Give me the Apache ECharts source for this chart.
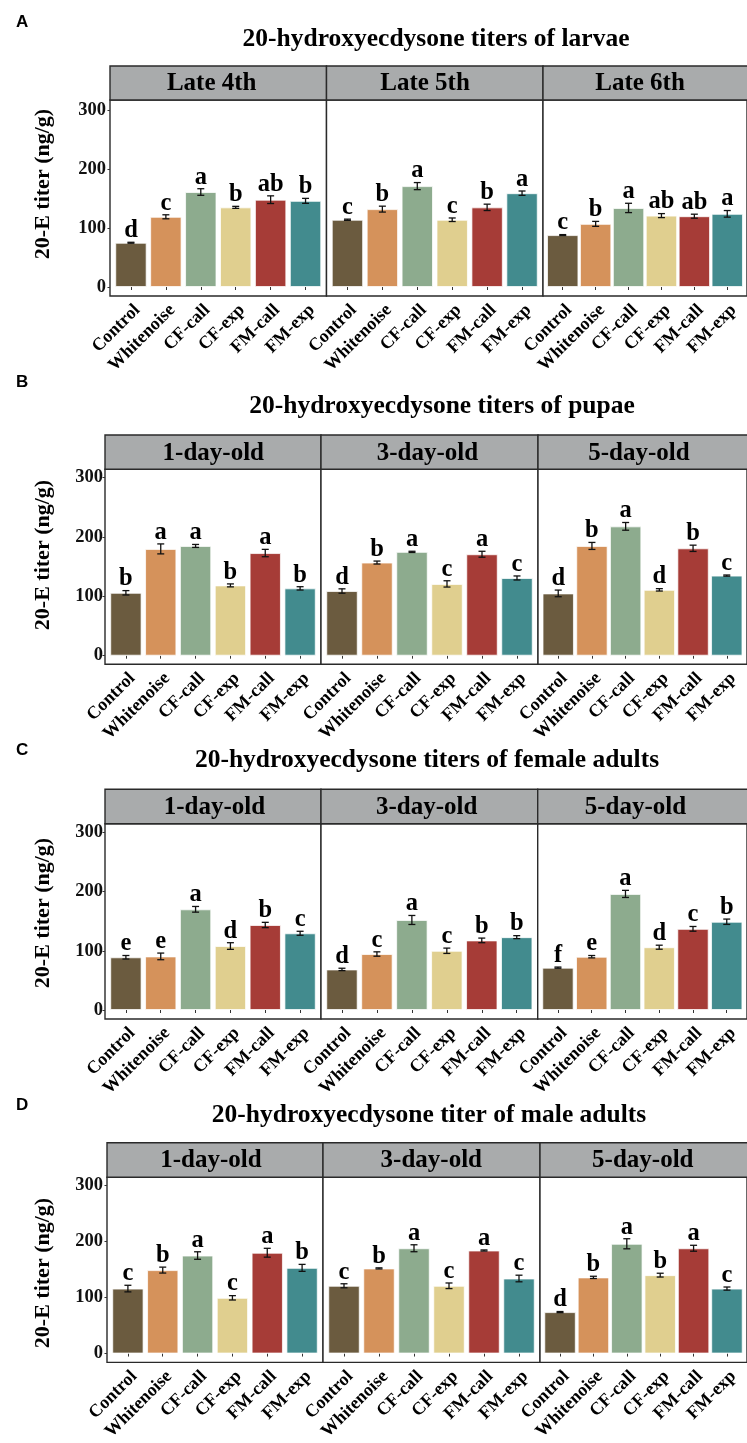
<!DOCTYPE html>
<html>
<head>
<meta charset="utf-8">
<script src="https://cdn.jsdelivr.net/npm/echarts@6/dist/echarts.min.js"></script>
<style>
html,body{margin:0;padding:0;background:#fff;}
#chart{width:747px;height:1443px;}
</style>
</head>
<body>
<div id="chart"></div>
<script>
// ---------------- DATA ----------------
const categories = ['Control', 'Whitenoise', 'CF-call', 'CF-exp', 'FM-call', 'FM-exp'];
const yTicks = [0, 100, 200, 300];

const panelTitles = [
  '20-hydroxyecdysone titers of larvae',
  '20-hydroxyecdysone titers of pupae',
  '20-hydroxyecdysone titers of female adults',
  '20-hydroxyecdysone titer of male adults'
];
const panelLetters = ['A', 'B', 'C', 'D'];
const larvaeFacets = ['Late 4th', 'Late 5th', 'Late 6th'];
const ageFacets = ['1-day-old', '3-day-old', '5-day-old'];

// A: larvae
const larvaeLate4Mean = [75, 119, 161, 135, 148, 146];
const larvaeLate4Se   = [0.8, 3.4, 5.6, 1.7, 6.5, 4.2];
const larvaeLate4Sig  = ['d', 'c', 'a', 'b', 'ab', 'b'];
const larvaeLate5Mean = [114, 132, 171, 114, 135, 159];
const larvaeLate5Se   = [1, 5, 6, 3, 5.4, 3.7];
const larvaeLate5Sig  = ['c', 'b', 'a', 'c', 'b', 'a'];
const larvaeLate6Mean = [88, 107, 134, 121, 120, 124];
const larvaeLate6Se   = [0.8, 4.2, 7.9, 3.4, 3.4, 5.6];
const larvaeLate6Sig  = ['c', 'b', 'a', 'ab', 'ab', 'a'];

// B: pupae
const pupae1Mean = [106, 180, 185, 118.5, 173, 113.5];
const pupae1Se   = [3.7, 8.4, 2.5, 2.5, 6.2, 2.8];
const pupae1Sig  = ['b', 'a', 'a', 'b', 'a', 'b'];
const pupae3Mean = [109, 157, 175, 121, 171, 131];
const pupae3Se   = [3.7, 2.5, 1, 5.3, 5, 3.4];
const pupae3Sig  = ['d', 'b', 'a', 'c', 'a', 'c'];
const pupae5Mean = [105, 185, 218, 111, 181, 135];
const pupae5Se   = [5.6, 5.9, 6.5, 2, 5.3, 1];
const pupae5Sig  = ['d', 'b', 'a', 'd', 'b', 'c'];

// C: female adults
const female1Mean = [89, 90.5, 170, 108, 143.5, 129.5];
const female1Se   = [3, 5.6, 4.8, 5.6, 4.5, 3.4];
const female1Sig  = ['e', 'e', 'a', 'd', 'b', 'c'];
const female3Mean = [68.5, 94.5, 152, 100, 117.5, 123];
const female3Se   = [2, 3.7, 7.6, 4.5, 3.9, 2.5];
const female3Sig  = ['d', 'c', 'a', 'c', 'b', 'b'];
const female5Mean = [71.5, 90, 196, 106, 137, 149];
const female5Se   = [1, 2, 6, 3.4, 4, 4.5];
const female5Sig  = ['f', 'e', 'a', 'd', 'c', 'b'];

// D: male adults
const male1Mean = [116, 149, 175, 99.5, 180, 153];
const male1Se   = [5.9, 5.3, 6.7, 3.9, 7.9, 6.2];
const male1Sig  = ['c', 'b', 'a', 'c', 'a', 'b'];
const male3Mean = [121, 152, 188, 121, 184, 134];
const male3Se   = [3.6, 1, 6.2, 5, 1, 5.9];
const male3Sig  = ['c', 'b', 'a', 'c', 'a', 'c'];
const male5Mean = [74, 136, 196, 140, 188, 116];
const male5Se   = [1, 2, 9, 3.4, 5.3, 2.8];
const male5Sig  = ['d', 'b', 'a', 'b', 'a', 'c'];

// ---------------- STYLE / LAYOUT ----------------
const barColors = ['#6b5b3f', '#d5925b', '#8dab8e', '#e0cf8f', '#a63c37', '#428b8e'];
const SERIF = '"Liberation Serif", "Times New Roman", serif';
const SANS = '"Liberation Sans", Arial, sans-serif';

const panels = [
  { facets: larvaeFacets,
    means: [larvaeLate4Mean, larvaeLate5Mean, larvaeLate6Mean],
    ses: [larvaeLate4Se, larvaeLate5Se, larvaeLate6Se],
    sigs: [larvaeLate4Sig, larvaeLate5Sig, larvaeLate6Sig],
    L: { letterY: 22, titleX: 436, titleY: 39.5, stripTop: 66, plotTop: 100, plotBottom: 296, y0: 287, y300: 110,
         fx: [110, 326.5, 543, 759.5], stx: [211.7, 425, 640], ytY: 184, lm: 4 } },
  { facets: ageFacets,
    means: [pupae1Mean, pupae3Mean, pupae5Mean],
    ses: [pupae1Se, pupae3Se, pupae5Se],
    sigs: [pupae1Sig, pupae3Sig, pupae5Sig],
    L: { letterY: 382, titleX: 442, titleY: 406, stripTop: 435, plotTop: 469.3, plotBottom: 664.3, y0: 655.7, y300: 477.7,
         fx: [105, 321, 538, 754.5], stx: [213.3, 427.5, 639], ytY: 555, lm: 2 } },
  { facets: ageFacets,
    means: [female1Mean, female3Mean, female5Mean],
    ses: [female1Se, female3Se, female5Se],
    sigs: [female1Sig, female3Sig, female5Sig],
    L: { letterY: 750, titleX: 427, titleY: 760, stripTop: 789.3, plotTop: 823.7, plotBottom: 1019, y0: 1010, y300: 832.3,
         fx: [105, 321, 537.7, 754], stx: [214.5, 426.7, 635.5], ytY: 913, lm: 2 } },
  { facets: ageFacets,
    means: [male1Mean, male3Mean, male5Mean],
    ses: [male1Se, male3Se, male5Se],
    sigs: [male1Sig, male3Sig, male5Sig],
    L: { letterY: 1105, titleX: 429, titleY: 1115, stripTop: 1142.7, plotTop: 1177.3, plotBottom: 1373.3, y0: 1364, y300: 1186,
         fx: [107, 323, 540, 757], stx: [211, 431.3, 642.8], ytY: 1273, lm: 4 } }
];

// ---------------- BUILD ----------------
const grids = [], xAxes = [], yAxes = [], series = [], graphics = [];

function errRenderer(sigArr) {
  return function (params, api) {
    const x = api.value(0), m = api.value(1), se = api.value(2);
    const top = api.coord([x, m + se]);
    const bot = api.coord([x, m - se]);
    const hw = 3.5;
    const st = { stroke: '#111', lineWidth: 1.3 };
    return {
      type: 'group',
      children: [
        { type: 'line', shape: { x1: top[0], y1: top[1], x2: bot[0], y2: bot[1] }, style: st },
        { type: 'line', shape: { x1: top[0] - hw, y1: top[1], x2: top[0] + hw, y2: top[1] }, style: st },
        { type: 'line', shape: { x1: bot[0] - hw, y1: bot[1], x2: bot[0] + hw, y2: bot[1] }, style: st },
        { type: 'text', x: top[0], y: top[1] + 1,
          style: { text: sigArr[params.dataIndex], font: 'bold 24.5px ' + SERIF, fill: '#000',
                   align: 'center', verticalAlign: 'bottom', textAlign: 'center', textVerticalAlign: 'bottom' } }
      ]
    };
  };
}

panels.forEach((p, pi) => {
  const L = p.L;
  const ppu = (L.y0 - L.y300) / 300;
  const yMax = (L.y0 - L.plotTop) / ppu;
  const yMin = -(L.plotBottom - L.y0) / ppu;

  // panel letter
  graphics.push({ type: 'text', x: 16, y: L.letterY, z: 10,
    style: { text: panelLetters[pi], font: 'bold 17px ' + SANS, fill: '#000',
             align: 'left', verticalAlign: 'middle', textAlign: 'left', textVerticalAlign: 'middle' } });
  // title
  graphics.push({ type: 'text', x: L.titleX, y: L.titleY, z: 10,
    style: { text: panelTitles[pi], font: 'bold 25.5px ' + SERIF, fill: '#000',
             align: 'center', verticalAlign: 'middle', textAlign: 'center', textVerticalAlign: 'middle' } });
  // y axis title
  graphics.push({ type: 'text', x: 43, y: L.ytY, rotation: Math.PI / 2, z: 10,
    style: { text: '20-E titer (ng/g)', font: 'bold 22px ' + SERIF, fill: '#000',
             align: 'center', verticalAlign: 'middle', textAlign: 'center', textVerticalAlign: 'middle' } });

  p.facets.forEach((fname, fi) => {
    const idx = pi * 3 + fi;
    const left = L.fx[fi], width = L.fx[fi + 1] - L.fx[fi];
    // strip
    graphics.push({ type: 'rect', z: 5,
      shape: { x: left, y: L.stripTop, width: width, height: L.plotTop - L.stripTop },
      style: { fill: '#a9abac', stroke: '#2a2a2a', lineWidth: 1.4 } });
    graphics.push({ type: 'text', x: L.stx[fi], y: (L.stripTop + L.plotTop) / 2 + 1, z: 6,
      style: { text: fname, font: 'bold 25px ' + SERIF, fill: '#000',
               align: 'center', verticalAlign: 'middle', textAlign: 'center', textVerticalAlign: 'middle' } });

    grids.push({ left: left, top: L.plotTop, width: width, height: L.plotBottom - L.plotTop,
      show: true, borderColor: '#2a2a2a', borderWidth: 1.4, backgroundColor: '#fff', containLabel: false });

    const unit = width / 6.2;
    xAxes.push({
      gridIndex: idx, type: 'value', min: 0.4, max: 6.6,
      axisLine: { show: false },
      splitLine: { show: false },
      axisTick: { show: true, customValues: [1, 2, 3, 4, 5, 6], length: 3, lineStyle: { color: '#333', width: 1 } },
      axisLabel: {
        show: true, customValues: [1, 2, 3, 4, 5, 6],
        formatter: v => categories[Math.round(v) - 1] || '',
        rotate: 45, align: 'right', verticalAlign: 'top', margin: 5,
        fontFamily: SERIF, fontWeight: 'bold', fontSize: 18, color: '#000'
      }
    });
    yAxes.push({
      gridIndex: idx, type: 'value', min: yMin, max: yMax,
      axisLine: { show: false },
      splitLine: { show: false },
      axisTick: { show: fi === 0, customValues: yTicks, length: 2.5, lineStyle: { color: '#333', width: 1 } },
      axisLabel: {
        show: fi === 0, customValues: yTicks, margin: L.lm,
        fontFamily: SERIF, fontWeight: 'bold', fontSize: 18.5, color: '#111'
      }
    });

    const means = p.means[fi], ses = p.ses[fi], sigs = p.sigs[fi];
    series.push({
      type: 'bar', xAxisIndex: idx, yAxisIndex: idx,
      barWidth: unit * 0.9,
      data: means.map((m, i) => ({ value: [i + 1, m], itemStyle: { color: barColors[i] } })),
      itemStyle: { borderColor: 'rgba(255,255,255,0.75)', borderWidth: 1 },
      silent: true, animation: false, z: 2
    });
    series.push({
      type: 'custom', xAxisIndex: idx, yAxisIndex: idx,
      renderItem: errRenderer(sigs),
      data: means.map((m, i) => [i + 1, m, ses[i]]),
      silent: true, animation: false, z: 3, clip: false
    });
  });
});

const chart = echarts.init(document.getElementById('chart'), null, { renderer: 'canvas' });
chart.setOption({
  animation: false,
  backgroundColor: '#fff',
  grid: grids,
  xAxis: xAxes,
  yAxis: yAxes,
  series: series,
  graphic: { elements: graphics }
});
</script>
</body>
</html>
